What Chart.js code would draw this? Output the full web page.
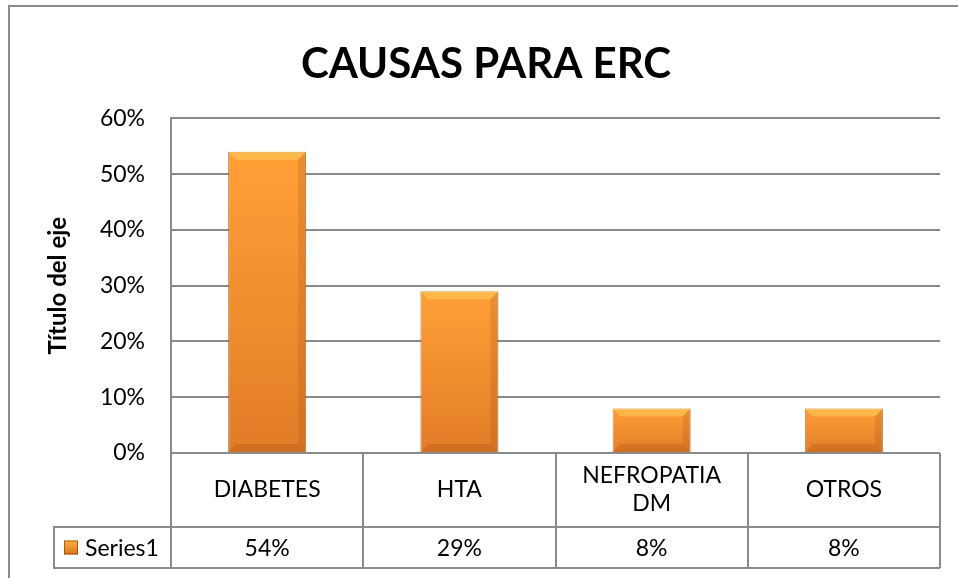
<html>
<head>
<meta charset="utf-8">
<title>Causas para ERC</title>
<style>
  body { margin: 0; background: #fff; }
  #wrap { position: relative; width: 958px; height: 578px; }
</style>
</head>
<body>
<div id="wrap"><canvas id="myChart" width="958" height="578"></canvas></div>
<script src="https://cdn.jsdelivr.net/npm/chart.js@4/dist/chart.umd.min.js"></script>
<script>
const chartTitle = 'CAUSAS PARA ERC';
const axisTitle = 'Título del eje';
const seriesName = 'Series1';
const categories = ['DIABETES', 'HTA', ['NEFROPATIA', 'DM'], 'OTROS'];
const series1 = [0.54, 0.29, 0.08, 0.08];
const tickLabels = ['0%', '10%', '20%', '30%', '40%', '50%', '60%'];

const FONT = 'Lato, "Open Sans", sans-serif';
const GRID = '#8a8a8a';
Chart.defaults.font.family = FONT;
Chart.defaults.color = '#000';

function pct(v) { return Math.round(v * 100) + '%'; }

// orange gradient per bar, light at top, darker at the base
function barFill(ctx) {
  const chart = ctx.chart;
  if (!chart.chartArea) return '#f08a2c';
  const y = chart.scales.y;
  const top = y.getPixelForValue(series1[ctx.dataIndex]);
  const bottom = y.getPixelForValue(0);
  const g = chart.ctx.createLinearGradient(0, top, 0, bottom);
  g.addColorStop(0, '#ffa036');
  g.addColorStop(1, '#e27c28');
  return g;
}

const bevelPlugin = {
  id: 'bevel',
  afterDatasetsDraw(chart) {
    const c = chart.ctx;
    chart.getDatasetMeta(0).data.forEach(el => {
      const l = el.x - el.width / 2, r = el.x + el.width / 2;
      const t = el.y, b = el.base;
      const s = Math.min(8, (b - t) / 3);
      c.save();
      c.fillStyle = 'rgba(255,214,100,0.45)';
      c.beginPath(); c.moveTo(l, t); c.lineTo(r, t); c.lineTo(r - s, t + s); c.lineTo(l + s, t + s); c.closePath(); c.fill();
      c.fillStyle = 'rgba(140,60,10,0.2)';
      c.beginPath(); c.moveTo(l, b); c.lineTo(r, b); c.lineTo(r - s, b - s); c.lineTo(l + s, b - s); c.closePath(); c.fill();
      c.fillStyle = 'rgba(120,55,10,0.15)';
      c.beginPath(); c.moveTo(r, t); c.lineTo(r, b); c.lineTo(r - s, b - s); c.lineTo(r - s, t + s); c.closePath(); c.fill();
      c.restore();
    });
  }
};

const tablePlugin = {
  id: 'dataTable',
  beforeDraw(chart) {
    const c = chart.ctx;
    c.save();
    c.fillStyle = '#fff';
    c.fillRect(0, 0, chart.width, chart.height);
    c.strokeStyle = GRID;
    c.lineWidth = 2;
    c.beginPath();
    c.moveTo(9, chart.height); c.lineTo(9, 6); c.lineTo(chart.width, 6);
    c.stroke();
    c.restore();
  },
  afterDraw(chart) {
    const c = chart.ctx;
    const area = chart.chartArea;
    const x = chart.scales.x;
    const step = area.width / categories.length;
    const y0 = area.bottom, y1 = y0 + 74, y2 = y1 + 41;
    const legLeft = 54;
    c.save();
    c.strokeStyle = GRID;
    c.lineWidth = 2;
    c.beginPath();
    for (let i = 0; i <= categories.length; i++) {
      const bx = Math.round(area.left + i * step);
      c.moveTo(bx, y0); c.lineTo(bx, y2);
    }
    c.moveTo(legLeft, y1); c.lineTo(area.right, y1);
    c.moveTo(legLeft, y2); c.lineTo(area.right, y2);
    c.moveTo(legLeft, y1 - 1); c.lineTo(legLeft, y2 + 1);
    c.stroke();

    c.fillStyle = '#000';
    c.font = '23px ' + FONT;
    c.textAlign = 'center';
    c.textBaseline = 'middle';
    categories.forEach((lab, i) => {
      const cx = x.getPixelForValue(i);
      const lines = Array.isArray(lab) ? lab : [lab];
      const lh = 28;
      const mid = (y0 + y1) / 2;
      lines.forEach((ln, k) => {
        c.fillText(ln, cx, mid + (k - (lines.length - 1) / 2) * lh);
      });
      c.fillText(pct(series1[i]), cx, (y1 + y2) / 2 + 1);
    });

    // legend key
    const ky = (y1 + y2) / 2;
    const g = c.createLinearGradient(0, ky - 7, 0, ky + 7);
    g.addColorStop(0, '#ffb040');
    g.addColorStop(1, '#d8731f');
    c.fillStyle = g;
    c.fillRect(64, ky - 7, 14, 14);
    c.strokeStyle = 'rgba(150,75,15,0.8)';
    c.lineWidth = 1;
    c.strokeRect(64.5, ky - 6.5, 13, 13);
    c.fillStyle = '#000';
    c.textAlign = 'left';
    c.fillText(seriesName, 85, ky + 1);
    c.restore();
  }
};

new Chart(document.getElementById('myChart'), {
  type: 'bar',
  data: {
    labels: categories.map(l => Array.isArray(l) ? l.join(' ') : l),
    datasets: [{
      label: seriesName,
      data: series1,
      backgroundColor: barFill,
      borderColor: 'rgba(165,85,20,0.7)',
      borderWidth: 1,
      barPercentage: 0.406,
      categoryPercentage: 1
    }]
  },
  options: {
    responsive: false,
    animation: false,
    layout: { padding: { left: 32, right: 18, top: 0, bottom: 125 } },
    plugins: {
      legend: { display: false },
      tooltip: { enabled: false },
      title: {
        display: true,
        text: chartTitle,
        color: '#000',
        font: { size: 42, weight: 'bold', lineHeight: 1.2 },
        padding: { top: 39, bottom: 29 }
      }
    },
    scales: {
      x: { display: false },
      y: {
        min: 0,
        max: 0.6,
        ticks: {
          stepSize: 0.1,
          padding: 26,
          font: { size: 23 },
          color: '#000',
          callback: (v, i) => tickLabels[i]
        },
        grid: { color: GRID, lineWidth: 2, drawTicks: false },
        border: { color: GRID, width: 2 },
        title: {
          display: true,
          text: axisTitle,
          color: '#000',
          font: { size: 24, weight: 'bold', lineHeight: 1.2 },
          padding: { top: 12, bottom: 0 }
        },
        afterFit(scale) { scale.width = 139; }
      }
    }
  },
  plugins: [tablePlugin, bevelPlugin]
});
</script>
</body>
</html>
